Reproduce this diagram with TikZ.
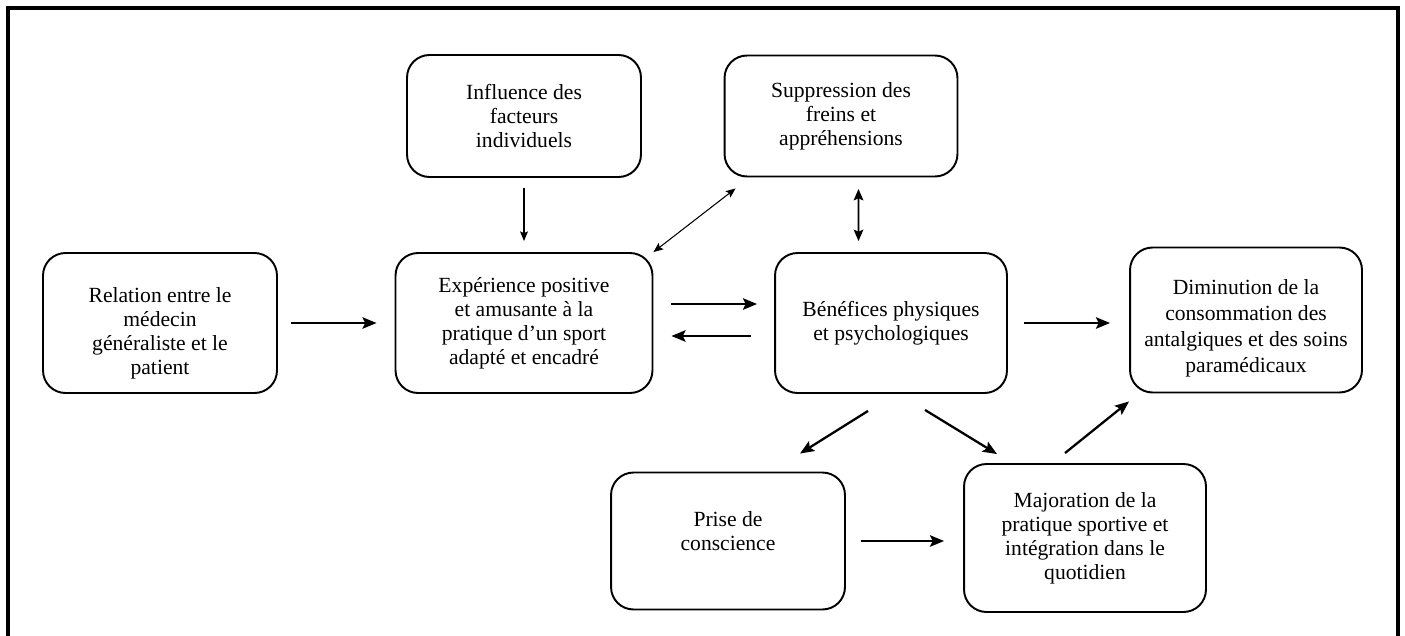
\documentclass[tikz,border=0pt]{standalone}
\usepackage{fontspec}
\setmainfont{Liberation Serif}
\usetikzlibrary{arrows.meta,calc}

\tikzset{
  boite/.style={draw, line width=1.1pt, rounded corners=0.45cm, align=center,
    inner sep=0pt, font=\fontsize{12.3}{13.6}\selectfont},
  fleche/.style={-{Stealth[length=8pt,width=6.5pt,inset=1.5pt]}, line width=1.3pt},
  fleche fine/.style={-{Stealth[length=5.5pt,width=4.5pt,inset=1pt]}, line width=0.6pt},
  double fine/.style={{Stealth[length=5.5pt,width=4.5pt,inset=1pt]}-{Stealth[length=5.5pt,width=4.5pt,inset=1pt]}, line width=0.6pt},
  double/.style={{Stealth[length=6.5pt,width=5.5pt,inset=1.2pt]}-{Stealth[length=6.5pt,width=5.5pt,inset=1.2pt]}, line width=1pt}
}

\begin{document}
\begin{tikzpicture}[x=0.02cm, y=-0.02cm]
\useasboundingbox (0,0) rectangle (1405,635);
\clip (0,0) rectangle (1405,635);
% Cadre
\draw[line width=1.8pt] (8,8) rectangle (1398,680);

% Boites
\node[boite, minimum width=4.68cm, minimum height=2.8cm] (rel) at (160,323)
  {\mbox{}\\[6.3pt]Relation entre le\\médecin\\généraliste et le\\patient};
\node[boite, minimum width=5.14cm, minimum height=2.8cm] (exp) at (524,323)
  {Expérience positive\\et amusante à la\\pratique d’un sport\\adapté et encadré};
\node[boite, minimum width=4.68cm, minimum height=2.44cm] (infl) at (524,116)
  {Influence des\\facteurs\\individuels};
\node[boite, minimum width=4.66cm, minimum height=2.42cm] (supp) at (841,116)
  {Suppression des\\freins et\\appréhensions};
\node[boite, minimum width=4.64cm, minimum height=2.8cm] (ben) at (891,323)
  {Bénéfices physiques\\et psychologiques};
\node[boite, minimum width=4.64cm, minimum height=2.9cm,
  font=\fontsize{12.3}{14.8}\selectfont] (dim) at (1246,320)
  {\mbox{}\\[3.4pt]Diminution de la\\consommation des\\antalgiques et des soins\\paramédicaux};
\node[boite, minimum width=4.68cm, minimum height=2.74cm] (prise) at (728,541)
  {Prise de\\conscience\\[-2.2pt]\mbox{}};
\node[boite, minimum width=4.84cm, minimum height=2.96cm] (maj) at (1085,538)
  {Majoration de la\\pratique sportive et\\intégration dans le\\quotidien};

% Fleches
\draw[fleche, shorten <=0.26cm, shorten >=0.36cm] (rel) -- (exp);
\draw[fleche fine, shorten <=0.2cm, shorten >=0.22cm] (infl) -- (exp);
\draw[double fine] (exp.north east) -- ($(supp.south west)+(12,11)$);
\draw[double, shorten <=0.23cm, shorten >=0.22cm] ([xshift=0.35cm]supp.south) -- ([xshift=-0.65cm]ben.north);
\draw[fleche, shorten <=0.35cm, shorten >=0.34cm] ([yshift=0.38cm]exp.east) -- ([yshift=0.38cm]ben.west);
\draw[fleche, shorten <=0.46cm, shorten >=0.36cm] ([yshift=-0.26cm]ben.west) -- ([yshift=-0.26cm]exp.east);
\draw[fleche, shorten <=0.32cm, shorten >=0.38cm] (ben.east) -- (ben.east -| dim.west);
\draw[fleche] ($(ben.south)+(-23,17)$) -- ($(prise.north)+(72,-18)$);
\draw[fleche] ($(ben.south)+(34,16)$) -- ($(maj.north)+(-88,-9)$);
\draw[fleche] ($(maj.north)+(-20,-10)$) -- ($(dim.south west)+(0,8)$);
\draw[fleche, shorten <=0.3cm, shorten >=0.38cm] (prise.east) -- (prise.east -| maj.west);
\end{tikzpicture}
\end{document}
